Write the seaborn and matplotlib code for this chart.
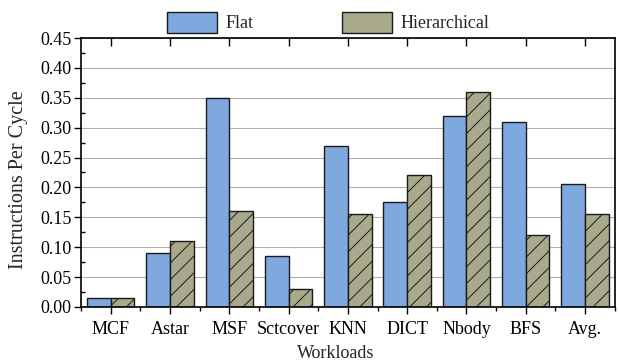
import matplotlib
matplotlib.use("Agg")
import matplotlib.pyplot as plt
import matplotlib.lines as mlines
import seaborn as sns
import pandas as pd
import numpy as np
from matplotlib.ticker import MultipleLocator, FixedLocator

workloads = ["MCF", "Astar", "MSF", "Sctcover", "KNN", "DICT", "Nbody", "BFS", "Avg."]
flat = [0.015, 0.09, 0.35, 0.085, 0.27, 0.175, 0.32, 0.31, 0.205]
hier = [0.015, 0.11, 0.16, 0.03, 0.155, 0.22, 0.36, 0.12, 0.155]
series = ["Flat", "Hierarchical"]
colors = ["#7FA9DE", "#A9AA8C"]

df = pd.DataFrame({
    "Workloads": workloads * 2,
    "IPC": flat + hier,
    "Series": [series[0]] * len(workloads) + [series[1]] * len(workloads),
})

sns.set_style("ticks")
plt.rcParams["font.family"] = ["Liberation Serif", "DejaVu Serif"]
plt.rcParams["hatch.linewidth"] = 0.7
plt.rcParams["xtick.color"] = "black"
plt.rcParams["ytick.color"] = "black"

fig = plt.figure(figsize=(6.19, 3.62), dpi=100)
ax = fig.add_axes([0.131, 0.152, 0.862, 0.743])

sns.barplot(data=df, x="Workloads", y="IPC", hue="Series", palette=colors,
            width=0.8, edgecolor="#1a1a1a", linewidth=1.0, ax=ax, legend=True,
            saturation=1)

for container, hatch in zip(ax.containers, ["", "//"]):
    for bar in container:
        bar.set_hatch(hatch)

n = len(workloads)
ax.set_ylim(0, 0.45)
ax.set_xlim(-0.5, n - 0.5)
ax.yaxis.set_major_locator(MultipleLocator(0.05))
ax.yaxis.set_minor_locator(MultipleLocator(0.025))
ax.yaxis.set_major_formatter(matplotlib.ticker.FormatStrFormatter("%.2f"))
ax.grid(axis="y", color="#b0b0b0", linewidth=0.8)
ax.set_axisbelow(True)
ax.xaxis.set_minor_locator(FixedLocator(np.arange(-0.5, n, 1.0)))
ax.tick_params(axis="x", which="major", bottom=True, top=True, direction="out",
               length=5, width=1, labelsize=13, pad=5)
ax.tick_params(axis="x", which="minor", bottom=True, top=False, direction="out",
               length=3, width=1)
ax.tick_params(axis="y", which="major", left=True, right=False, direction="out",
               length=5, width=1, labelsize=13, pad=2)
ax.tick_params(axis="y", which="minor", left=True, right=False, direction="in",
               length=3, width=1)
for s in ax.spines.values():
    s.set_visible(True)
    s.set_linewidth(1.2)
    s.set_color("black")

ax.set_ylabel("Instructions Per Cycle", fontsize=14.5)
ax.yaxis.set_label_coords(-0.099, 0.472)
ax.set_xlabel("Workloads", fontsize=13)
ax.xaxis.set_label_coords(0.478, -0.141)

handles, labels = ax.get_legend_handles_labels()
ax.legend(handles, labels, loc="center", bbox_to_anchor=(0.463, 1.058), ncol=2,
          frameon=False, fontsize=13, handlelength=2.78, handleheight=1.45,
          columnspacing=4.9, handletextpad=0.45, borderaxespad=0, borderpad=0)

fig.canvas.draw()
for t in ax.xaxis.get_major_ticks():
    t.tick2line.set_marker(mlines.TICKDOWN)
    t.tick2line.set_markersize(6)

fig.savefig("out.png", dpi=100)
